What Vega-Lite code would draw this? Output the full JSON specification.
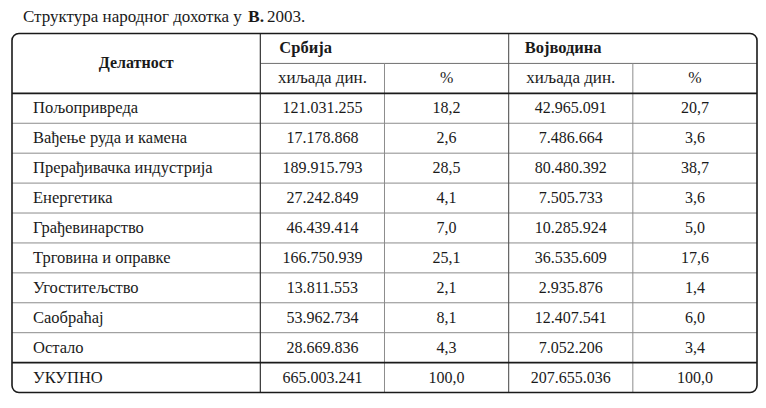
{
  "$schema": "https://vega.github.io/schema/vega-lite/v6.json",
  "width": 766,
  "height": 408,
  "autosize": {"type": "none"},
  "padding": 0,
  "background": "white",
  "config": {"view": {"stroke": null}, "text": {"font": "Liberation Serif", "fontSize": 16, "color": "#1a1a1a"}},
  "data": {"values": [
    {"r": 2, "activity": "Пољопривреда", "s_val": "121.031.255", "s_pct": "18,2", "v_val": "42.965.091", "v_pct": "20,7"},
    {"r": 3, "activity": "Вађење руда и камена", "s_val": "17.178.868", "s_pct": "2,6", "v_val": "7.486.664", "v_pct": "3,6"},
    {"r": 4, "activity": "Прерађивачка индустрија", "s_val": "189.915.793", "s_pct": "28,5", "v_val": "80.480.392", "v_pct": "38,7"},
    {"r": 5, "activity": "Енергетика", "s_val": "27.242.849", "s_pct": "4,1", "v_val": "7.505.733", "v_pct": "3,6"},
    {"r": 6, "activity": "Грађевинарство", "s_val": "46.439.414", "s_pct": "7,0", "v_val": "10.285.924", "v_pct": "5,0"},
    {"r": 7, "activity": "Трговина и оправке", "s_val": "166.750.939", "s_pct": "25,1", "v_val": "36.535.609", "v_pct": "17,6"},
    {"r": 8, "activity": "Угоститељство", "s_val": "13.811.553", "s_pct": "2,1", "v_val": "2.935.876", "v_pct": "1,4"},
    {"r": 9, "activity": "Саобраћај", "s_val": "53.962.734", "s_pct": "8,1", "v_val": "12.407.541", "v_pct": "6,0"},
    {"r": 10, "activity": "Остало", "s_val": "28.669.836", "s_pct": "4,3", "v_val": "7.052.206", "v_pct": "3,4"},
    {"r": 11, "activity": "УКУПНО", "s_val": "665.003.241", "s_pct": "100,0", "v_val": "207.655.036", "v_pct": "100,0"}
  ]},
  "layer": [
    {
      "transform": [{"filter": "datum.r < 10"}],
      "mark": {"type": "rule", "stroke": "#8c8c8c", "strokeWidth": 1, "yOffset": 14.96},
      "encoding": {
        "x": {"datum": 0, "type": "quantitative", "scale": {"domain": [-0.09664, 6.07248], "nice": false, "zero": false}, "axis": null},
        "x2": {"datum": 6},
        "y": {"field": "r", "type": "quantitative", "scale": {"domain": [-1.6196, 12.0167], "reverse": true, "nice": false, "zero": false}, "axis": null}
      }
    },
    {
      "data": {"values": [{}]},
      "mark": {"type": "rule", "stroke": "#6e6e6e", "strokeWidth": 1},
      "encoding": {
        "x": {"datum": 2, "type": "quantitative", "axis": null},
        "x2": {"datum": 6},
        "y": {"datum": 0.5, "type": "quantitative", "axis": null}
      }
    },
    {
      "data": {"values": [{}]},
      "mark": {"type": "rule", "stroke": "#8c8c8c", "strokeWidth": 1},
      "encoding": {
        "x": {"datum": 3, "type": "quantitative", "axis": null},
        "y": {"datum": 0.5, "type": "quantitative", "axis": null},
        "y2": {"datum": 11.5}
      }
    },
    {
      "data": {"values": [{}]},
      "mark": {"type": "rule", "stroke": "#8c8c8c", "strokeWidth": 1},
      "encoding": {
        "x": {"datum": 5, "type": "quantitative", "axis": null},
        "y": {"datum": 0.5, "type": "quantitative", "axis": null},
        "y2": {"datum": 11.5}
      }
    },
    {
      "data": {"values": [{}]},
      "mark": {"type": "rule", "stroke": "#333333", "strokeWidth": 1.2},
      "encoding": {
        "x": {"datum": 2, "type": "quantitative", "axis": null},
        "y": {"datum": -0.5, "type": "quantitative", "axis": null},
        "y2": {"datum": 11.5}
      }
    },
    {
      "data": {"values": [{}]},
      "mark": {"type": "rule", "stroke": "#555555", "strokeWidth": 1.1},
      "encoding": {
        "x": {"datum": 4, "type": "quantitative", "axis": null},
        "y": {"datum": -0.5, "type": "quantitative", "axis": null},
        "y2": {"datum": 11.5}
      }
    },
    {
      "data": {"values": [{}]},
      "mark": {"type": "rule", "stroke": "#1a1a1a", "strokeWidth": 1.8},
      "encoding": {
        "x": {"datum": 0, "type": "quantitative", "axis": null},
        "x2": {"datum": 6},
        "y": {"datum": 1.5, "type": "quantitative", "axis": null}
      }
    },
    {
      "data": {"values": [{}]},
      "mark": {"type": "rule", "stroke": "#1a1a1a", "strokeWidth": 1.8},
      "encoding": {
        "x": {"datum": 0, "type": "quantitative", "axis": null},
        "x2": {"datum": 6},
        "y": {"datum": 10.5, "type": "quantitative", "axis": null}
      }
    },
    {
      "data": {"values": [{}]},
      "mark": {"type": "rect", "fill": null, "fillOpacity": 0, "stroke": "#1a1a1a", "strokeWidth": 1.6, "cornerRadius": 7},
      "encoding": {
        "x": {"datum": 0, "type": "quantitative", "axis": null},
        "x2": {"datum": 6},
        "y": {"datum": -0.5, "type": "quantitative", "axis": null},
        "y2": {"datum": 11.5}
      }
    },
    {
      "data": {"values": [{"label": "Структура народног дохотка у"}]},
      "mark": {"type": "text", "align": "left", "baseline": "middle", "dx": 11, "fontSize": 17},
      "encoding": {
        "x": {"datum": 0, "type": "quantitative", "axis": null},
        "y": {"datum": -1.05, "type": "quantitative", "axis": null},
        "text": {"field": "label"}
      }
    },
    {
      "data": {"values": [{"label": "В."}]},
      "mark": {"type": "text", "align": "left", "baseline": "middle", "dx": 236, "fontSize": 17.5, "fontWeight": "bold"},
      "encoding": {
        "x": {"datum": 0, "type": "quantitative", "axis": null},
        "y": {"datum": -1.05, "type": "quantitative", "axis": null},
        "text": {"field": "label"}
      }
    },
    {
      "data": {"values": [{"label": "2003."}]},
      "mark": {"type": "text", "align": "left", "baseline": "middle", "dx": 255, "fontSize": 17},
      "encoding": {
        "x": {"datum": 0, "type": "quantitative", "axis": null},
        "y": {"datum": -1.05, "type": "quantitative", "axis": null},
        "text": {"field": "label"}
      }
    },
    {
      "data": {"values": [{"label": "Делатност"}]},
      "mark": {"type": "text", "align": "center", "baseline": "middle", "fontWeight": "bold"},
      "encoding": {
        "x": {"datum": 1, "type": "quantitative", "axis": null},
        "y": {"datum": 0.5, "type": "quantitative", "axis": null},
        "text": {"field": "label"}
      }
    },
    {
      "data": {"values": [{"label": "Србија"}]},
      "mark": {"type": "text", "align": "left", "baseline": "middle", "dx": 19, "fontWeight": "bold", "fontSize": 16.5},
      "encoding": {
        "x": {"datum": 2, "type": "quantitative", "axis": null},
        "y": {"datum": 0, "type": "quantitative", "axis": null},
        "text": {"field": "label"}
      }
    },
    {
      "data": {"values": [{"label": "Војводина"}]},
      "mark": {"type": "text", "align": "left", "baseline": "middle", "dx": 16, "fontWeight": "bold", "fontSize": 16.5},
      "encoding": {
        "x": {"datum": 4, "type": "quantitative", "axis": null},
        "y": {"datum": 0, "type": "quantitative", "axis": null},
        "text": {"field": "label"}
      }
    },
    {
      "data": {"values": [{"label": "хиљада дин."}]},
      "mark": {"type": "text", "align": "center", "baseline": "middle", "fontSize": 17},
      "encoding": {
        "x": {"datum": 2.5, "type": "quantitative", "axis": null},
        "y": {"datum": 1, "type": "quantitative", "axis": null},
        "text": {"field": "label"}
      }
    },
    {
      "data": {"values": [{"label": "%"}]},
      "mark": {"type": "text", "align": "center", "baseline": "middle"},
      "encoding": {
        "x": {"datum": 3.5, "type": "quantitative", "axis": null},
        "y": {"datum": 1, "type": "quantitative", "axis": null},
        "text": {"field": "label"}
      }
    },
    {
      "data": {"values": [{"label": "хиљада дин."}]},
      "mark": {"type": "text", "align": "center", "baseline": "middle", "fontSize": 17},
      "encoding": {
        "x": {"datum": 4.5, "type": "quantitative", "axis": null},
        "y": {"datum": 1, "type": "quantitative", "axis": null},
        "text": {"field": "label"}
      }
    },
    {
      "data": {"values": [{"label": "%"}]},
      "mark": {"type": "text", "align": "center", "baseline": "middle"},
      "encoding": {
        "x": {"datum": 5.5, "type": "quantitative", "axis": null},
        "y": {"datum": 1, "type": "quantitative", "axis": null},
        "text": {"field": "label"}
      }
    },
    {
      "mark": {"type": "text", "align": "left", "baseline": "middle", "dx": 21, "fontSize": 16.5},
      "encoding": {
        "x": {"datum": 0, "type": "quantitative", "axis": null},
        "y": {"field": "r", "type": "quantitative", "axis": null},
        "text": {"field": "activity"}
      }
    },
    {
      "mark": {"type": "text", "align": "center", "baseline": "middle"},
      "encoding": {
        "x": {"datum": 2.5, "type": "quantitative", "axis": null},
        "y": {"field": "r", "type": "quantitative", "axis": null},
        "text": {"field": "s_val"}
      }
    },
    {
      "mark": {"type": "text", "align": "center", "baseline": "middle"},
      "encoding": {
        "x": {"datum": 3.5, "type": "quantitative", "axis": null},
        "y": {"field": "r", "type": "quantitative", "axis": null},
        "text": {"field": "s_pct"}
      }
    },
    {
      "mark": {"type": "text", "align": "center", "baseline": "middle"},
      "encoding": {
        "x": {"datum": 4.5, "type": "quantitative", "axis": null},
        "y": {"field": "r", "type": "quantitative", "axis": null},
        "text": {"field": "v_val"}
      }
    },
    {
      "mark": {"type": "text", "align": "center", "baseline": "middle"},
      "encoding": {
        "x": {"datum": 5.5, "type": "quantitative", "axis": null},
        "y": {"field": "r", "type": "quantitative", "axis": null},
        "text": {"field": "v_pct"}
      }
    }
  ]
}
